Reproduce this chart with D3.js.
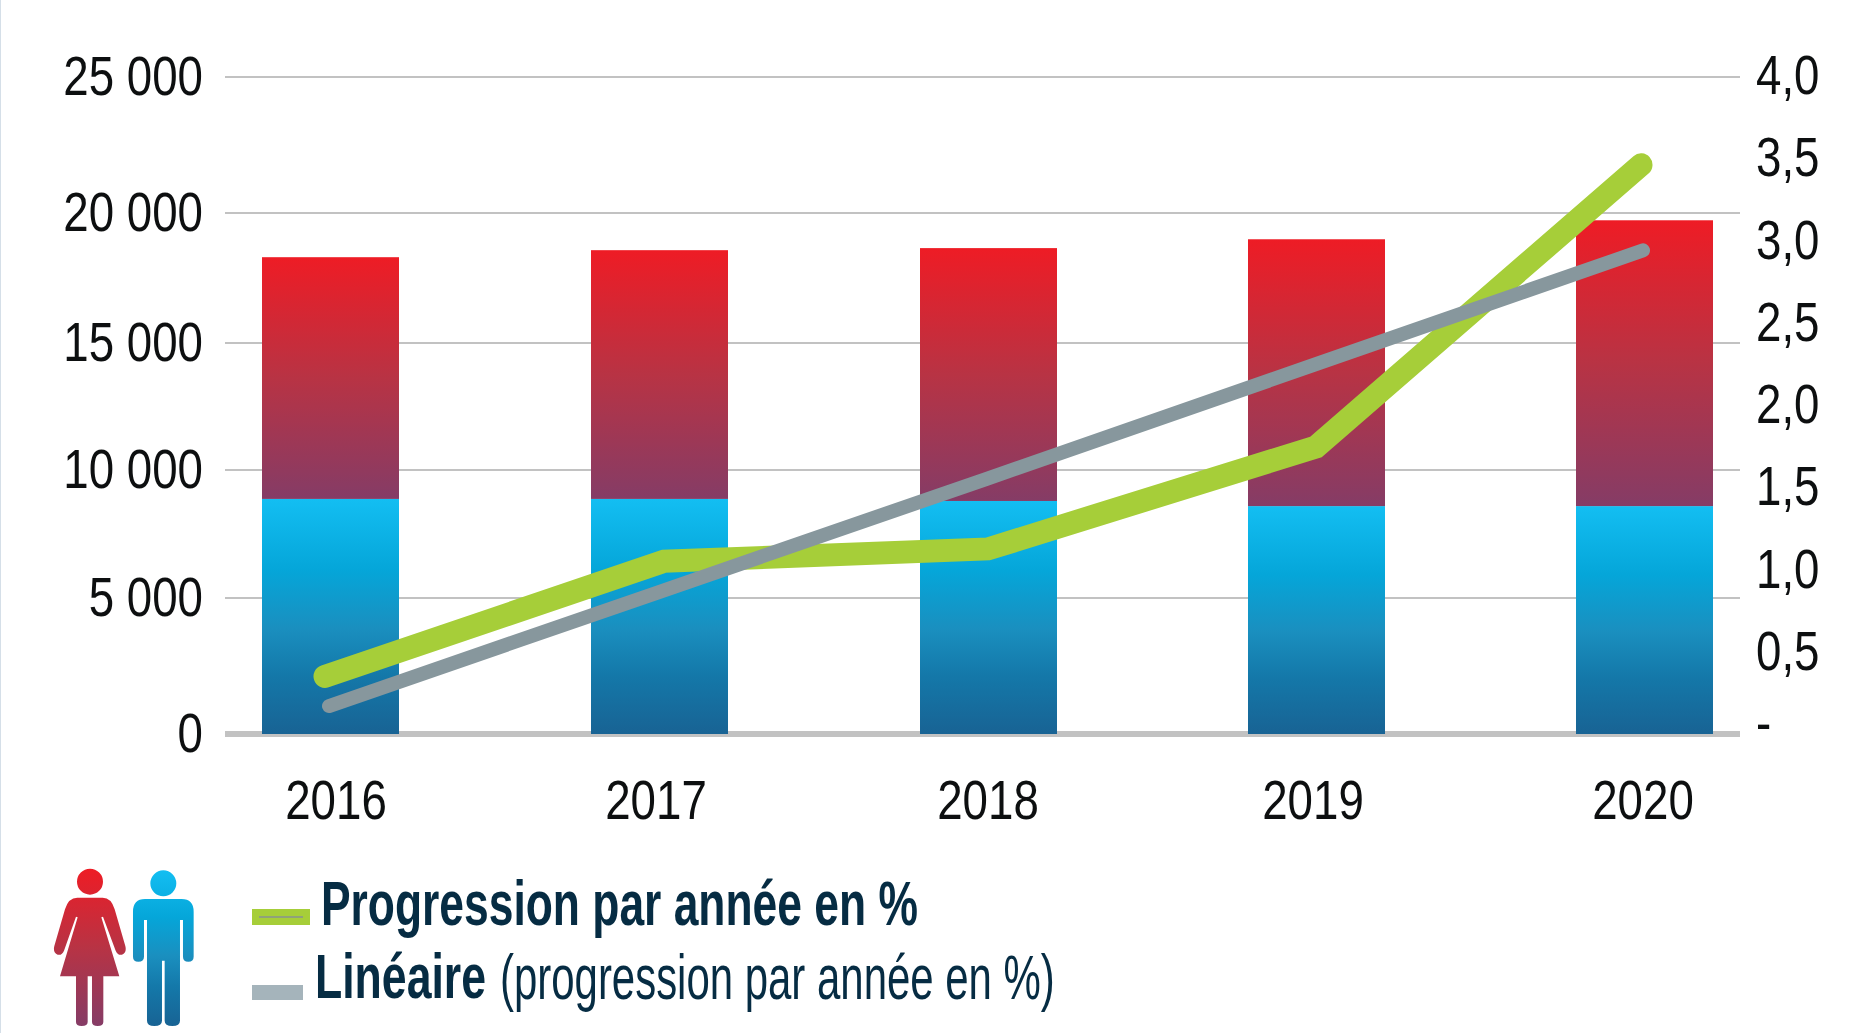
<!DOCTYPE html>
<html>
<head>
<meta charset="utf-8">
<title>Progression par année</title>
<script src="https://cdn.jsdelivr.net/npm/d3@7/dist/d3.min.js"></script>
<style>
	html, body { margin: 0; padding: 0; background: #fff; overflow: hidden; }
	svg { display: block; }
	text { font-family: "Liberation Sans", sans-serif; }
	.tick text { font-size: 55px; fill: #0d0f10; }
	.legend text { font-size: 63px; fill: #062c43; }
</style>
</head>
<body>
<div id="chart"></div>
<script>
(function () {

	'use strict';

	// values
	let years = [2016, 2017, 2018, 2019, 2020];
	let women = [9430, 9700, 9860, 10400, 11130];
	let men = [8870, 8870, 8790, 8590, 8590];
	let progression = [0.35, 1.05, 1.125, 1.745, 3.46];
	let trend = [0.17, 0.86, 1.55, 2.245, 2.94];

	let leftTicks = [0, 5000, 10000, 15000, 20000, 25000];
	let rightTicks = [0, 0.5, 1, 1.5, 2, 2.5, 3, 3.5, 4];

	let width = 1873;
	let height = 1033;
	let barWidth = 137;
	let gridLeft = 225;
	let gridRight = 1740;

	// the source picture is slightly uneven, so these scales are calibrated on each tick
	let y = d3.scaleLinear().domain(leftTicks).range([734, 598, 470, 343, 213, 77]);
	let y2 = d3.scaleLinear().domain([0, 4]).range([734, 76]);
	let xBar = d3.scaleLinear().domain(years).range([330.5, 659.5, 988.5, 1316.5, 1644.5]);
	let xLabel = d3.scaleLinear().domain(years).range([336, 656, 988, 1313, 1643]);
	let xLine = d3.scaleLinear().domain(years).range([325, 664, 988, 1316, 1641]);
	let xTrend = d3.scaleLinear().domain([2016, 2020]).range([329, 1643]);

	let spaced = d3.formatLocale({ decimal: ',', thousands: ' ', grouping: [3], currency: ['', ''] });

	let svg = d3.select('#chart').append('svg')
		.attr('width', width)
		.attr('height', height);

	let defs = svg.append('defs');

	function gradient(id, stops) {
		let g = defs.append('linearGradient')
			.attr('id', id)
			.attr('x1', 0).attr('y1', 0)
			.attr('x2', 0).attr('y2', 1);
		stops.forEach(function (s) {
			g.append('stop').attr('offset', s[0]).attr('stop-color', s[1]);
		});
	}

	// no condensed font here, so squeeze the glyphs to the measured width
	function condense(selection) {
		selection.each(function () {
			d3.select(this)
				.attr('textLength', this.getComputedTextLength() * 0.83)
				.attr('lengthAdjust', 'spacingAndGlyphs');
		});
	}

	gradient('red', [[0, '#ee1c25'], [0.5, '#b83344'], [1, '#853c66']]);
	gradient('blue', [[0, '#13bef2'], [0.3, '#05a6d9'], [0.55, '#1a8fbf'], [0.75, '#1478a9'], [1, '#186394']]);

	// thin strip on the left edge
	svg.append('rect')
		.attr('width', 1)
		.attr('height', height)
		.attr('fill', '#d5dfe8');

	// left axis carries the grid
	let leftAxis = svg.append('g')
		.attr('transform', 'translate(' + gridLeft + ',0)')
		.call(d3.axisLeft(y)
			.tickValues(leftTicks)
			.tickSize(-(gridRight - gridLeft))
			.tickPadding(22)
			.offset(0)
			.tickFormat(spaced.format(',d')));

	leftAxis.select('.domain').remove();
	leftAxis.selectAll('.tick line')
		.attr('stroke', '#c2c2c2')
		.attr('stroke-width', function (d) { return d === 0 ? 6 : 2; });
	leftAxis.selectAll('.tick text').attr('dy', '0.33em').call(condense);

	let rightAxis = svg.append('g')
		.attr('transform', 'translate(' + gridRight + ',0)')
		.call(d3.axisRight(y2)
			.tickValues(rightTicks)
			.tickSize(0)
			.tickPadding(16)
			.offset(0)
			.tickFormat(function (d) { return d === 0 ? '-' : spaced.format('.1f')(d); }));

	rightAxis.select('.domain').remove();
	rightAxis.selectAll('.tick text')
		.attr('dy', function (d) { return d === 0 ? '0.14em' : '0.33em'; })
		.call(condense);

	let bottomAxis = svg.append('g')
		.attr('transform', 'translate(0,734)')
		.call(d3.axisBottom(xLabel)
			.tickValues(years)
			.tickSize(0)
			.tickPadding(66)
			.offset(0)
			.tickFormat(d3.format('d')));

	bottomAxis.select('.domain').remove();
	bottomAxis.selectAll('.tick text').attr('dy', '0.345em').call(condense);

	// stacked bars
	svg.append('g').selectAll('rect')
		.data(years)
		.enter().append('rect')
		.attr('x', function (d) { return xBar(d) - barWidth / 2; })
		.attr('width', barWidth)
		.attr('y', function (d, i) { return y(men[i]); })
		.attr('height', function (d, i) { return y(0) - y(men[i]); })
		.attr('fill', 'url(#blue)');

	svg.append('g').selectAll('rect')
		.data(years)
		.enter().append('rect')
		.attr('x', function (d) { return xBar(d) - barWidth / 2; })
		.attr('width', barWidth)
		.attr('y', function (d, i) { return y(men[i] + women[i]); })
		.attr('height', function (d, i) { return y(men[i]) - y(men[i] + women[i]); })
		.attr('fill', 'url(#red)');

	// lines
	let progressionLine = d3.line()
		.x(function (d, i) { return xLine(years[i]); })
		.y(function (d) { return y2(d); });

	let trendLine = d3.line()
		.x(function (d, i) { return xTrend(years[i]); })
		.y(function (d) { return y2(d); });

	svg.append('path')
		.attr('d', progressionLine(progression))
		.attr('fill', 'none')
		.attr('stroke', '#a6ce39')
		.attr('stroke-width', 23)
		.attr('stroke-linecap', 'round');

	svg.append('path')
		.attr('d', trendLine(trend))
		.attr('fill', 'none')
		.attr('stroke', '#87979d')
		.attr('stroke-width', 14)
		.attr('stroke-linecap', 'round');

	// woman and man pictograms, drawn at 3x and scaled down
	let icons = svg.append('g')
		.attr('transform', 'translate(40,860) scale(0.3333)');

	icons.append('path')
		.attr('fill', 'url(#red)')
		.attr('d', 'M111,65a39,39 0 1,0 78,0a39,39 0 1,0 -78,0Z' +
			'M112,113L188,113Q214,113 224,148L256,258Q261,278 246,284Q233,287 227,272L189,170L184,172L238,349L190,349L190,486Q190,498 173,498Q156,498 156,486L156,349L143,349L143,486Q143,498 125,498Q108,498 108,486L108,349L60,349L113,172L108,170L72,272Q66,287 53,284Q38,278 43,258L75,148Q85,113 112,113Z');

	icons.append('path')
		.attr('fill', 'url(#blue)')
		.attr('d', 'M331,70a39,39 0 1,0 78,0a39,39 0 1,0 -78,0Z' +
			'M315,117L425,117Q461,117 461,155L461,290Q461,305 445,305Q429,305 429,290L429,180L420,180L420,482Q420,498 397,498Q374,498 374,482L374,302L366,302L366,482Q366,498 343,498Q321,498 321,482L321,180L312,180L312,290Q312,305 295,305Q279,305 279,290L279,155Q279,117 315,117Z');

	// legend
	let legend = svg.append('g').attr('class', 'legend');

	legend.append('rect')
		.attr('x', 252).attr('y', 909)
		.attr('width', 58).attr('height', 16)
		.attr('fill', '#a6ce39');

	legend.append('rect')
		.attr('x', 259).attr('y', 916)
		.attr('width', 44).attr('height', 2)
		.attr('fill', '#8fa27a');

	legend.append('rect')
		.attr('x', 252).attr('y', 985)
		.attr('width', 51).attr('height', 15)
		.attr('fill', '#a5b4bb');

	// legend text is scaled by transform so its box stays true
	function legendText(label, x, baseline, targetWidth, bold) {
		let t = legend.append('text')
			.attr('font-weight', bold ? 'bold' : 'normal')
			.text(label);
		let natural = t.node().getComputedTextLength();
		t.attr('transform', 'translate(' + x + ',' + baseline + ') scale(' + (targetWidth / natural) + ',1)');
	}

	legendText('Progression par année en %', 321, 925, 597, true);
	legendText('Linéaire', 315, 998, 171, true);
	legendText('(progression par année en %)', 500, 999, 555, false);

})();
</script>
</body>
</html>
